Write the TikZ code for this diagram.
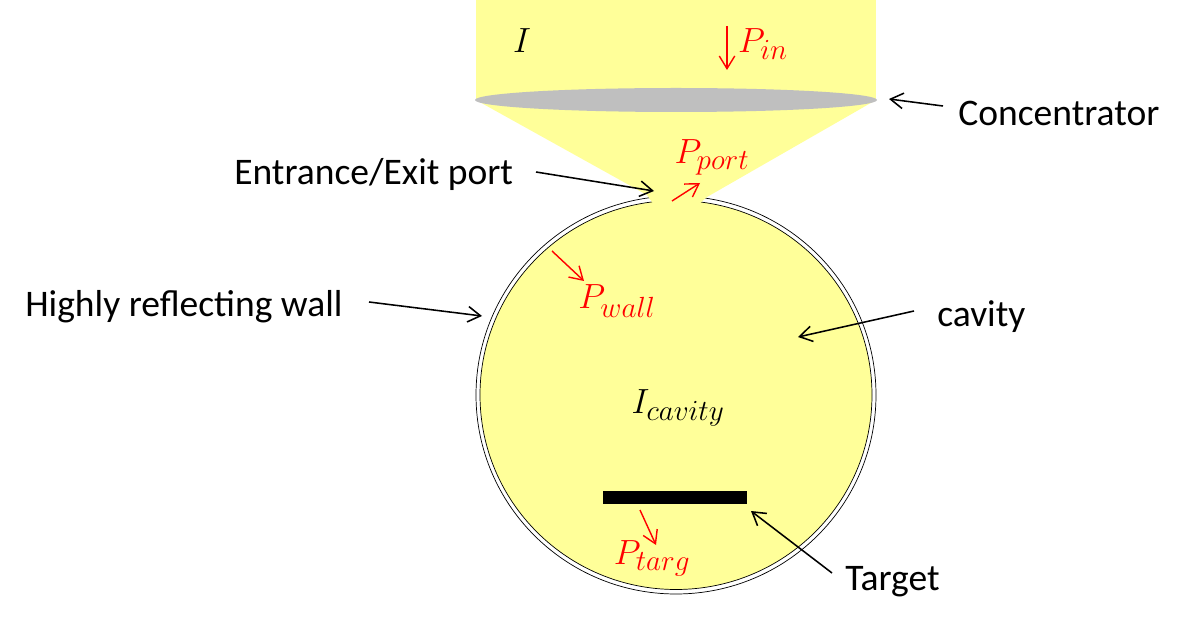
\documentclass[tikz,border=0pt]{standalone}
\usepackage{fontspec}
\setmainfont{Carlito}
\usetikzlibrary{arrows.meta}
\definecolor{beamyellow}{RGB}{255,255,153}
\definecolor{lensgray}{RGB}{191,191,191}
\tikzset{
  lbl/.style={inner sep=0pt, font=\fontsize{26.7}{32}\selectfont},
  mathlbl/.style={inner sep=0pt, font=\fontsize{29.5}{35}\selectfont},
  powerlbl/.style={mathlbl, text=red},
  blackarrow/.style={-{Straight Barb[length=9pt,width=11pt]}, line width=1.1pt, black},
  redarrow/.style={-{Straight Barb[length=9pt,width=11pt]}, line width=1pt, red},
}
\begin{document}
\begin{tikzpicture}[x=0.025cm,y=-0.025cm]
  \useasboundingbox (0,0) rectangle (1196,622);

  % beam above the concentrator
  \fill[beamyellow] (476,0) rectangle (876,100);
  % cavity wall
  \draw[fill=white, line width=.5pt] (676,395) ellipse [x radius=200, y radius=199];
  \draw[fill=beamyellow, line width=.5pt] (676,395) ellipse [x radius=196, y radius=194.5];
  % focused beam through the port
  \fill[beamyellow] (476,100) -- (876,100) -- (707,197) -- (698,205) -- (654,205) -- (647,195) -- cycle;
  \fill[lensgray] (676,100) ellipse [x radius=201, y radius=12];
  \node[fill=black, inner sep=0pt, minimum width=3.6cm, minimum height=.325cm] (target) at (675,497.5) {};

  \node[lbl, anchor=west] (conc) at (958,113) {Concentrator};
  \node[lbl, anchor=west] (port) at (234,174) {Entrance/Exit port};
  \node[lbl, anchor=west] (wall) at (25,307) {Highly reflecting wall};
  \node[lbl, anchor=west] (cav) at (937,317) {cavity};
  \node[lbl, anchor=west] (targ) at (845,582) {Target};

  \node[mathlbl] (i) at (522,41) {$I$};
  \node[mathlbl] (icav) at (678,408) {$I_{cavity}$};
  \node[powerlbl] (pin) at (763,44) {$P_{in}$};
  \node[powerlbl] (pport) at (712,157) {$P_{port}$};
  \node[powerlbl] (pwall) at (617,301) {$P_{wall}$};
  \node[powerlbl] (ptarg) at (652,558) {$P_{targ}$};

  \coordinate (a1) at (943,106);
  \coordinate (a2) at (889,99);
  \coordinate (b1) at (536,172);
  \coordinate (b2) at (654,191);
  \coordinate (c1) at (369,302);
  \coordinate (c2) at (482,316);
  \coordinate (d1) at (914,311);
  \coordinate (d2) at (798,337);
  \coordinate (e1) at (832,573);
  \coordinate (e2) at (751,511);
  \coordinate (f1) at (727,26);
  \coordinate (f2) at (727,70);
  \coordinate (g1) at (672,201);
  \coordinate (g2) at (700,183);
  \coordinate (h1) at (552,251);
  \coordinate (h2) at (584,281);
  \coordinate (k1) at (640,510);
  \coordinate (k2) at (656,545);

  \foreach \from/\to in {a1/a2, b1/b2, c1/c2, d1/d2, e1/e2}
    \draw[blackarrow] (\from) -- (\to);
  \foreach \from/\to in {f1/f2, g1/g2, h1/h2, k1/k2}
    \draw[redarrow] (\from) -- (\to);
\end{tikzpicture}
\end{document}
